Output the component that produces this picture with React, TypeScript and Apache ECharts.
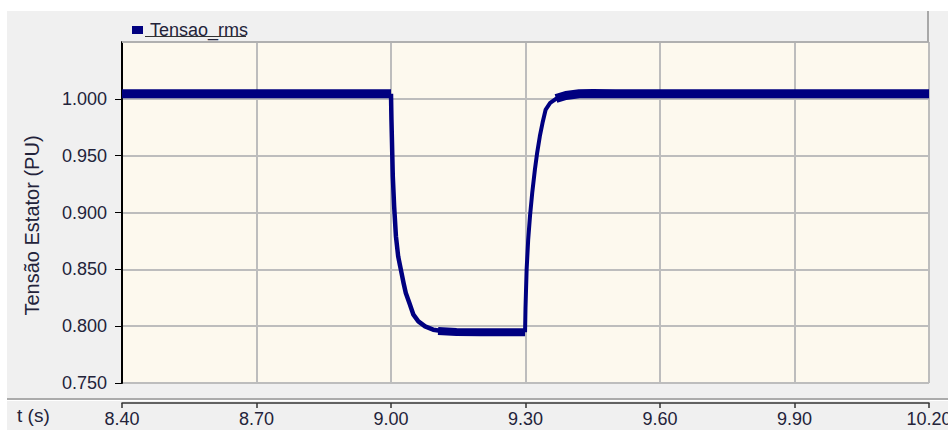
import React, { useEffect, useRef } from "react";
import * as echarts from "echarts";

// Tensao_rms (PU) vs t (s)
const preFault: number[][] = [
  [8.4, 1.0044],
  [9.0, 1.0044],
];
const fallEdge: number[][] = [
  [9.0, 1.0044],
  [9.001, 0.9818],
  [9.004, 0.9319],
  [9.007, 0.9055],
  [9.011, 0.8791],
  [9.016, 0.8614],
  [9.022, 0.8497],
  [9.028, 0.838],
  [9.033, 0.8292],
  [9.041, 0.8204],
  [9.05, 0.8101],
  [9.061, 0.8042],
  [9.076, 0.7998],
  [9.094, 0.7969],
  [9.117, 0.7956],
];
const faultPlateau: number[][] = [
  [9.105, 0.7958],
  [9.146, 0.7949],
  [9.2, 0.7947],
  [9.299, 0.7946],
];
const riseEdge: number[][] = [
  [9.299, 0.7946],
  [9.3, 0.816],
  [9.3025, 0.8497],
  [9.306, 0.8761],
  [9.31, 0.8967],
  [9.315, 0.9173],
  [9.321, 0.9378],
  [9.326, 0.9525],
  [9.332, 0.9671],
  [9.338, 0.9789],
  [9.345, 0.9906],
  [9.355, 0.9965],
  [9.37, 1.0005],
];
const postFault: number[][] = [
  [9.368, 1.0003],
  [9.39, 1.003],
  [9.42, 1.0045],
  [9.45, 1.0048],
  [9.5, 1.0044],
  [10.2, 1.0044],
];

const seriesName = "Tensao_rms";
const yAxisTitle = "Tensão Estator (PU)";
const xAxisTitle = "t (s)";
const yTicks = [0.75, 0.8, 0.85, 0.9, 0.95, 1.0];
const xMin = 8.4;
const xMax = 10.2;
const xStep = 0.3;
const yMin = 0.75;
const yMax = 1.05;
const yStep = 0.05;

const FONT = "'Liberation Sans', Arial, sans-serif";
const NAVY = "#000080";
const GRID = "#bdbdbd";
const TEXT = "#23233a";

export default function App() {
  const ref = useRef<HTMLDivElement>(null);

  useEffect(() => {
    if (!ref.current) return;
    const chart = echarts.init(ref.current, null, { renderer: "svg" });

    const seg = (data: number[][], width: number) => ({
      name: seriesName,
      type: "line",
      data,
      symbol: "none",
      showSymbol: false,
      lineStyle: { color: NAVY, width, cap: "butt", join: "round" },
      itemStyle: { color: NAVY },
      z: 3,
    });

    chart.setOption({
      animation: false,
      backgroundColor: "#f0f0f0",
      textStyle: { fontFamily: FONT },
      grid: {
        left: 115,
        right: 19,
        top: 31,
        bottom: 47,
        outerBoundsMode: "none",
        containLabel: false,
        show: true,
        backgroundColor: "#fdf9ee",
        borderWidth: 0,
      },
      legend: {
        left: 120,
        top: 5,
        data: [seriesName],
        icon: "rect",
        itemWidth: 11,
        itemHeight: 8,
        textStyle: {
          fontFamily: FONT,
          fontSize: 18,
          color: TEXT,
          padding: [0, 0, 0, 2],
        },
      },
      xAxis: {
        type: "value",
        min: xMin,
        max: xMax,
        interval: xStep,
        offset: 20,
        axisLine: { show: true, lineStyle: { color: "#333", width: 1.5 } },
        axisTick: { show: true, length: 5, lineStyle: { color: "#333", width: 1.5 } },
        axisLabel: {
          fontFamily: FONT,
          fontSize: 18,
          color: TEXT,
          margin: 7,
          hideOverlap: false,
          formatter: (v: number) => v.toFixed(2),
        },
        splitLine: { show: true, lineStyle: { color: GRID, width: 2 } },
      },
      yAxis: {
        type: "value",
        min: yMin,
        max: yMax,
        interval: yStep,
        axisLine: { show: true, lineStyle: { color: "#000", width: 2 } },
        axisTick: {
          show: true,
          length: 7,
          customValues: yTicks,
          lineStyle: { color: "#000", width: 1 },
        },
        axisLabel: {
          fontFamily: FONT,
          fontSize: 18,
          color: TEXT,
          margin: 15,
          customValues: yTicks,
          formatter: (v: number) => (v > 1.001 ? "" : v.toFixed(3)),
        },
        splitLine: { show: true, lineStyle: { color: GRID, width: 2 } },
      },
      graphic: [
        {
          type: "line",
          shape: { x1: 115, y1: 31, x2: 922, y2: 31 },
          style: { stroke: "#b0b0b0", lineWidth: 2 },
          z: 10,
        },
        {
          type: "line",
          shape: { x1: 921, y1: 0, x2: 921, y2: 31 },
          style: { stroke: "#a8a8a8", lineWidth: 2 },
          z: 10,
        },
        {
          type: "line",
          shape: { x1: 138, y1: 25.5, x2: 239, y2: 25.5 },
          style: { stroke: "#333", lineWidth: 1 },
          z: 10,
        },
        {
          type: "line",
          shape: { x1: 0, y1: 388, x2: 941, y2: 388 },
          style: { stroke: "#ababab", lineWidth: 2 },
          z: 10,
        },
        {
          type: "line",
          shape: { x1: 0, y1: 389.5, x2: 941, y2: 389.5 },
          style: { stroke: "#ffffff", lineWidth: 1 },
          z: 10,
        },
        {
          type: "text",
          x: 24.5,
          y: 214.5,
          rotation: Math.PI / 2,
          style: {
            text: yAxisTitle,
            font: `20px ${FONT}`,
            fill: TEXT,
            align: "center",
            verticalAlign: "middle",
            textAlign: "center",
            textVerticalAlign: "middle",
          },
          z: 10,
        },
        {
          type: "text",
          x: 10,
          y: 404,
          style: {
            text: xAxisTitle,
            font: `19px ${FONT}`,
            fill: TEXT,
            textVerticalAlign: "middle",
            verticalAlign: "middle",
          },
          z: 10,
        },
      ],
      series: [
        seg(preFault, 9),
        seg(fallEdge, 4.5),
        seg(faultPlateau, 8),
        seg(riseEdge, 4),
        seg(postFault, 9),
      ],
    });

    return () => chart.dispose();
  }, []);

  return (
    <div
      ref={ref}
      style={{ position: "fixed", left: 7, top: 11, width: 941, height: 419 }}
    />
  );
}
